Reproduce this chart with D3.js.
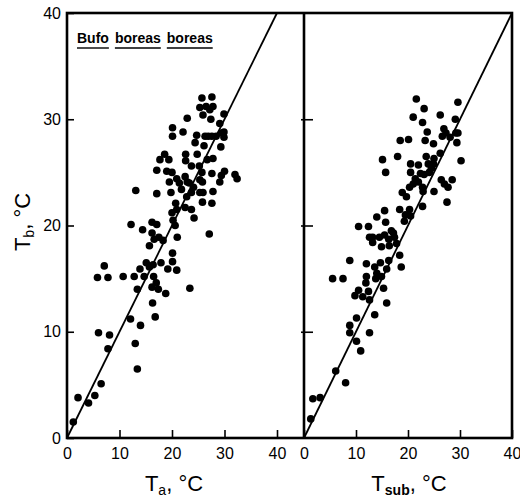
<!doctype html>
<html lang="en">
<head>
 <meta charset="utf-8">
 <script src="https://cdn.jsdelivr.net/npm/d3@7"></script>
 <title>Bufo boreas boreas body temperature</title>
 <style>
  body { margin: 0; background: #fff; }
  text { font-family: "Liberation Sans", Arial, sans-serif; fill: #000; }
  .tick text { font-size: 16px; }
  .domain { display: none; }
  .tick line { stroke: #000; stroke-width: 1.6; }
 </style>
</head>
<body>
<div id="chart"></div>
<script>
    // tick labels
    var yTicks = [0, 10, 20, 30, 40];
    var xTicks = [0, 10, 20, 30, 40];

    // left panel: air temperature Ta vs body temperature Tb
    var ta = [1.2, 2.1, 4.1, 5.3, 6.5, 6.0, 8.1, 7.8, 5.8, 7.1, 7.8, 10.7, 12.1, 13.0, 13.4, 14.0,
        12.8, 13.4, 13.9, 14.7, 15.1, 15.7, 16.4, 16.5, 16.2, 17.0, 17.4, 16.3, 16.8, 17.9, 18.8,
        19.2, 20.1, 20.1, 20.9, 23.4, 15.7, 16.2, 16.6, 17.5, 18.3, 21.0,
        13.1, 12.2, 14.4, 16.2, 17.1, 17.1, 17.1, 17.7, 18.6, 19.4, 19.0, 20.0, 20.1, 20.1, 22.1,
        22.9, 22.6, 22.6, 19.5, 19.8, 20.9, 21.4, 21.8, 22.5, 22.9, 23.3, 23.7, 23.7, 24.1, 24.4,
        24.8, 25.2, 25.3, 25.3, 25.8, 25.7, 25.8, 26.1, 26.3, 25.3, 25.7, 25.9, 26.5, 27.2, 27.6,
        27.8, 27.4, 26.9, 27.6, 27.8, 27.6, 27.8, 27.6, 25.9, 29.1, 29.4, 30.0, 29.9, 29.1, 29.4,
        29.9, 29.9, 29.3, 28.4, 32.0, 32.4, 27.1, 20.9, 20.7, 22.5, 23.7, 24.2, 20.0, 20.6, 20.2,
        22.8, 24.7, 26.7];
    var tbA = [1.5, 3.8, 3.3, 4.0, 5.1, 9.9, 9.7, 8.4, 15.1, 16.2, 15.1, 15.2, 11.2, 8.9, 6.5, 10.6,
        15.2, 14.0, 15.9, 15.2, 16.5, 16.1, 16.3, 15.2, 14.2, 14.6, 14.0, 12.7, 11.4, 16.5, 13.6,
        15.9, 17.4, 16.6, 15.8, 14.1, 18.1, 19.3, 18.7, 18.9, 18.6, 18.9,
        23.3, 20.1, 19.6, 20.3, 20.1, 23.0, 25.2, 26.2, 26.7, 26.2, 25.1, 25.0, 28.4, 29.2, 28.8,
        30.1, 26.7, 26.1, 24.1, 23.1, 24.4, 24.0, 23.4, 24.6, 24.1, 24.0, 25.6, 23.1, 23.6, 27.8,
        26.7, 25.6, 23.1, 24.3, 24.1, 25.0, 22.2, 27.5, 28.4, 31.1, 32.0, 30.4, 31.2, 30.9, 32.1,
        31.2, 30.0, 28.4, 28.4, 26.3, 24.9, 23.2, 22.1, 23.1, 24.1, 24.7, 25.1, 30.5, 29.6, 28.7,
        28.8, 28.3, 27.4, 28.4, 24.8, 24.4, 19.2, 21.5, 22.1, 21.7, 21.5, 20.7, 21.2, 20.0, 20.5,
        22.7, 28.5, 26.2];

    // right panel: substrate temperature Tsub vs body temperature Tb
    var tsub = [1.3, 1.7, 3.1, 6.1, 8.0, 8.8, 8.8, 10.1, 10.1, 10.9, 12.6, 13.6, 5.5, 7.5, 8.8, 9.8,
        10.5, 11.3, 11.9, 12.4, 12.6, 12.0, 12.0, 13.6, 14.0, 13.8, 14.7, 14.9, 15.3, 15.9, 15.9,
        16.3, 17.8, 18.4, 18.7,
        21.6, 23.1, 21.0, 22.8, 26.2, 29.6, 29.1, 23.7, 26.9, 18.5, 20.1, 23.3, 24.9, 26.6, 27.3,
        28.1, 29.2, 29.6, 29.4, 26.2, 25.0, 23.5, 18.0, 15.1, 15.7, 20.5, 22.0, 20.5, 23.9, 24.5,
        24.9, 30.2, 22.4, 23.1, 24.1, 21.4, 22.0, 21.0, 22.8, 20.3, 18.9, 19.7, 22.9, 25.0, 26.4,
        27.0, 27.7, 28.5, 27.5, 22.8, 18.4, 20.3, 19.5, 19.3, 20.5, 15.5, 14.0, 15.7, 10.5, 12.4,
        12.6, 13.2, 14.5, 15.5, 16.3, 16.8, 17.2, 17.4, 13.2, 14.9, 16.4];
    var tbS = [1.8, 3.7, 3.8, 6.3, 5.2, 10.6, 9.9, 11.3, 9.1, 8.2, 9.9, 11.6, 15.0, 15.0, 16.7, 13.4,
        13.9, 13.3, 14.6, 13.8, 13.0, 15.2, 16.4, 16.1, 15.5, 15.0, 16.5, 15.2, 14.1, 12.7, 15.9,
        16.7, 18.3, 17.2, 16.1,
        31.9, 31.0, 30.2, 29.7, 30.4, 31.6, 30.0, 28.8, 29.1, 28.0, 28.1, 28.0, 27.7, 28.4, 28.7,
        28.3, 28.7, 28.7, 27.8, 26.8, 26.3, 26.5, 26.5, 26.2, 25.0, 25.8, 25.7, 25.0, 25.8, 25.4,
        25.8, 26.1, 24.9, 24.8, 25.0, 24.4, 24.1, 23.9, 23.6, 23.6, 23.1, 22.7, 23.2, 23.2, 24.3,
        23.9, 23.6, 24.3, 22.2, 21.8, 21.5, 21.5, 21.0, 20.4, 20.9, 21.4, 20.8, 20.3, 19.9, 19.9,
        18.9, 18.9, 18.9, 19.1, 18.7, 19.5, 19.3, 18.9, 18.4, 18.0, 18.1];

    var W = 520, H = 499;
    var svg = d3.select("#chart").append("svg")
        .attr("width", W)
        .attr("height", H);

    // scales
    var y = d3.scaleLinear().domain([0, 40]).range([438, 13]);
    var xA = d3.scaleLinear().domain([0, 40]).range([67, 277]);
    var xS = d3.scaleLinear().domain([0, 40]).range([304, 512]);

    var xLeft = xA(0), xMid = xS(0), xRight = xS(40), yTop = y(40), yBottom = y(0);

    // axes, ticks pointing inward
    svg.append("g")
        .attr("transform", "translate(" + xLeft + ",0)")
        .call(d3.axisLeft(y).tickValues(yTicks).tickSize(-7).tickPadding(6));

    svg.append("g")
        .attr("transform", "translate(" + xMid + ",0)")
        .call(d3.axisRight(y).tickValues(yTicks.slice(1, 4)).tickSize(9).tickFormat(""));
    svg.append("g")
        .attr("transform", "translate(" + xMid + ",0)")
        .call(d3.axisLeft(y).tickValues(yTicks.slice(1, 4)).tickSize(3).tickFormat(""));

    svg.append("g")
        .attr("transform", "translate(0," + yBottom + ")")
        .call(d3.axisBottom(xA).tickValues(xTicks).tickSize(-8).tickPadding(10));

    svg.append("g")
        .attr("transform", "translate(0," + yBottom + ")")
        .call(d3.axisBottom(xS).tickValues(xTicks).tickSize(-8).tickPadding(10));

    // frame
    var frame = svg.append("g")
        .attr("fill", "none")
        .attr("stroke", "#000")
        .attr("stroke-width", 2.6);
    frame.append("rect")
        .attr("x", xLeft).attr("y", yTop)
        .attr("width", xRight - xLeft).attr("height", yBottom - yTop);
    frame.append("line")
        .attr("x1", xMid).attr("x2", xMid)
        .attr("y1", yTop).attr("y2", yBottom);

    // 1:1 lines
    svg.append("line")
        .attr("x1", xA(0)).attr("y1", y(0))
        .attr("x2", xA(40)).attr("y2", y(40))
        .attr("stroke", "#000").attr("stroke-width", 1.8);
    svg.append("line")
        .attr("x1", xS(0)).attr("y1", y(0))
        .attr("x2", xS(40)).attr("y2", y(40))
        .attr("stroke", "#000").attr("stroke-width", 1.8);

    // points
    svg.append("g").selectAll("circle").data(d3.range(ta.length))
        .enter().append("circle")
        .attr("cx", function (i) { return xA(ta[i]); })
        .attr("cy", function (i) { return y(tbA[i]); })
        .attr("r", 3.8)
        .attr("fill", "#000");
    svg.append("g").selectAll("circle").data(d3.range(tsub.length))
        .enter().append("circle")
        .attr("cx", function (i) { return xS(tsub[i]); })
        .attr("cy", function (i) { return y(tbS[i]); })
        .attr("r", 3.8)
        .attr("fill", "#000");

    // species label, each word underlined
    var words = ["Bufo", "boreas", "boreas"];
    var wx = 77;
    words.forEach(function (w) {
        var t = svg.append("text")
            .attr("x", wx).attr("y", 43)
            .attr("font-size", 14)
            .attr("font-weight", "bold")
            .text(w);
        var len = t.node().getComputedTextLength();
        svg.append("line")
            .attr("x1", wx).attr("x2", wx + len)
            .attr("y1", 48).attr("y2", 48)
            .attr("stroke", "#000").attr("stroke-width", 1.4);
        wx += len + 6;
    });

    // axis titles
    var ta_t = svg.append("text")
        .attr("x", 174).attr("y", 491)
        .attr("text-anchor", "middle")
        .attr("font-size", 22);
    ta_t.append("tspan").text("T");
    ta_t.append("tspan").attr("font-size", 14).attr("dy", 4).text("a");
    ta_t.append("tspan").attr("dy", -4).text(", °C");

    var ts_t = svg.append("text")
        .attr("x", 409).attr("y", 491)
        .attr("text-anchor", "middle")
        .attr("font-size", 22);
    ts_t.append("tspan").text("T");
    ts_t.append("tspan").attr("font-size", 14).attr("font-weight", "bold").attr("dy", 4).text("sub");
    ts_t.append("tspan").attr("dy", -4).text(", °C");

    var tb_t = svg.append("text")
        .attr("transform", "translate(30,222) rotate(-90)")
        .attr("text-anchor", "middle")
        .attr("font-size", 22);
    tb_t.append("tspan").text("T");
    tb_t.append("tspan").attr("font-size", 14).attr("dy", 4).text("b");
    tb_t.append("tspan").attr("dy", -4).text(", °C");
</script>
</body>
</html>
